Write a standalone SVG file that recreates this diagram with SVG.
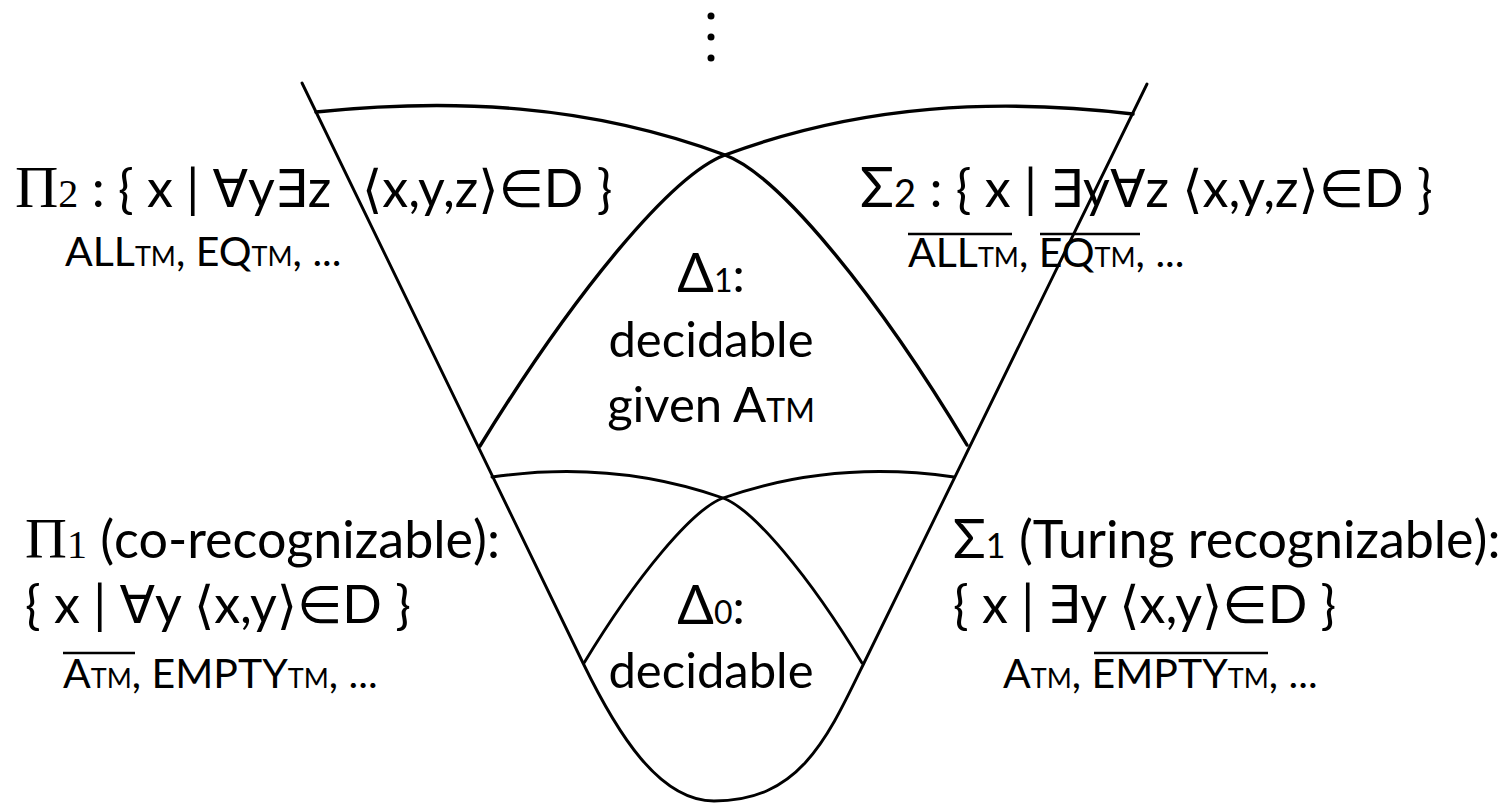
<svg xmlns="http://www.w3.org/2000/svg" width="1511" height="804" viewBox="0 0 1511 804">
<style>
.t{font-family:Lato,"Open Sans","DejaVu Sans",sans-serif;font-size:52px;fill:#000}
.s{font-family:"Liberation Serif","DejaVu Serif",serif}
.sm{font-size:41px}
.tm{font-size:27px}
.c{font-size:49px}
.b{fill:none;stroke:#000;stroke-width:2.9;stroke-linecap:round}
.bt{stroke-width:3.4}
.ol{stroke:#000;stroke-width:2.5}
</style>
<rect width="1511" height="804" fill="#fff"/>
<g id="boundaries">
<path class="b" d="M302,83 L583,663 C617,733 659,801 714,801 C800,801 827.5,738 864,663 L1147,84"/>
<path class="b bt" d="M316,112 C452,98 588,104 725,155 C777.5,174.4 874.3,290.4 967,445"/>
<path class="b bt" d="M1133,114 C998,98 862,104 725,155 C672.5,174.4 575.7,290.4 480,446"/>
<path class="b" d="M492,477 C568,466 646,471 723,498 C753,509 808.7,575 862,663"/>
<path class="b" d="M954,477 C878,466 800,471 723,498 C693,509 637.3,575 584,663"/>
</g>
<g id="dots">
<circle cx="711" cy="16" r="3.5"/>
<circle cx="711" cy="37" r="3.5"/>
<circle cx="711" cy="58" r="3.5"/>
</g>
<g id="pi2">
<text class="t" x="15" y="207"><tspan class="s" font-size="60">Π</tspan><tspan class="s" font-size="40">2</tspan> : { x | ∀y∃z</text>
<text class="t" x="362" y="207" font-size="50">⟨x,y,z⟩∈D }</text>
<text class="t sm" x="65" y="266">ALL<tspan class="tm">TM</tspan>, EQ<tspan class="tm">TM</tspan>, ...</text>
</g>
<g id="sigma2">
<text class="t" x="860" y="207"><tspan font-size="56">Σ</tspan><tspan font-size="38">2</tspan> : { x | ∃y∀z ⟨x,y,z⟩∈D }</text>
<text class="t sm" x="908" y="267">ALL<tspan class="tm">TM</tspan>, EQ<tspan class="tm">TM</tspan>, ...</text>
<line class="ol" x1="908" y1="234" x2="1012" y2="234"/>
<line class="ol" x1="1040" y1="234" x2="1140" y2="234"/>
</g>
<g id="delta1">
<text class="t c" x="711" y="292" text-anchor="middle"><tspan font-size="54">Δ</tspan><tspan font-size="32">1</tspan>:</text>
<text class="t c" x="711" y="357" text-anchor="middle">decidable</text>
<text class="t c" x="711" y="422" text-anchor="middle">given A<tspan font-size="32">TM</tspan></text>
</g>
<g id="pi1">
<text class="t" x="25" y="558" font-size="51"><tspan class="s" font-size="58">Π</tspan><tspan class="s" font-size="40">1</tspan> (co-recognizable):</text>
<text class="t" x="25" y="623">{ x | ∀y ⟨x,y⟩∈D }</text>
<text class="t sm" x="63" y="688">A<tspan class="tm">TM</tspan>, EMPTY<tspan class="tm">TM</tspan>, ...</text>
<line class="ol" x1="63" y1="653" x2="135" y2="653"/>
</g>
<g id="sigma1">
<text class="t" x="953" y="558" font-size="51"><tspan font-size="54">Σ</tspan><tspan font-size="34">1</tspan> (Turing recognizable):</text>
<text class="t" x="953" y="623">{ x | ∃y ⟨x,y⟩∈D }</text>
<text class="t sm" x="1003" y="688">A<tspan class="tm">TM</tspan>, EMPTY<tspan class="tm">TM</tspan>, ...</text>
<line class="ol" x1="1094" y1="653" x2="1268" y2="653"/>
</g>
<g id="delta0">
<text class="t c" x="711" y="624" text-anchor="middle"><tspan font-size="54">Δ</tspan><tspan font-size="32">0</tspan>:</text>
<text class="t c" x="711" y="688" text-anchor="middle">decidable</text>
</g>
</svg>
